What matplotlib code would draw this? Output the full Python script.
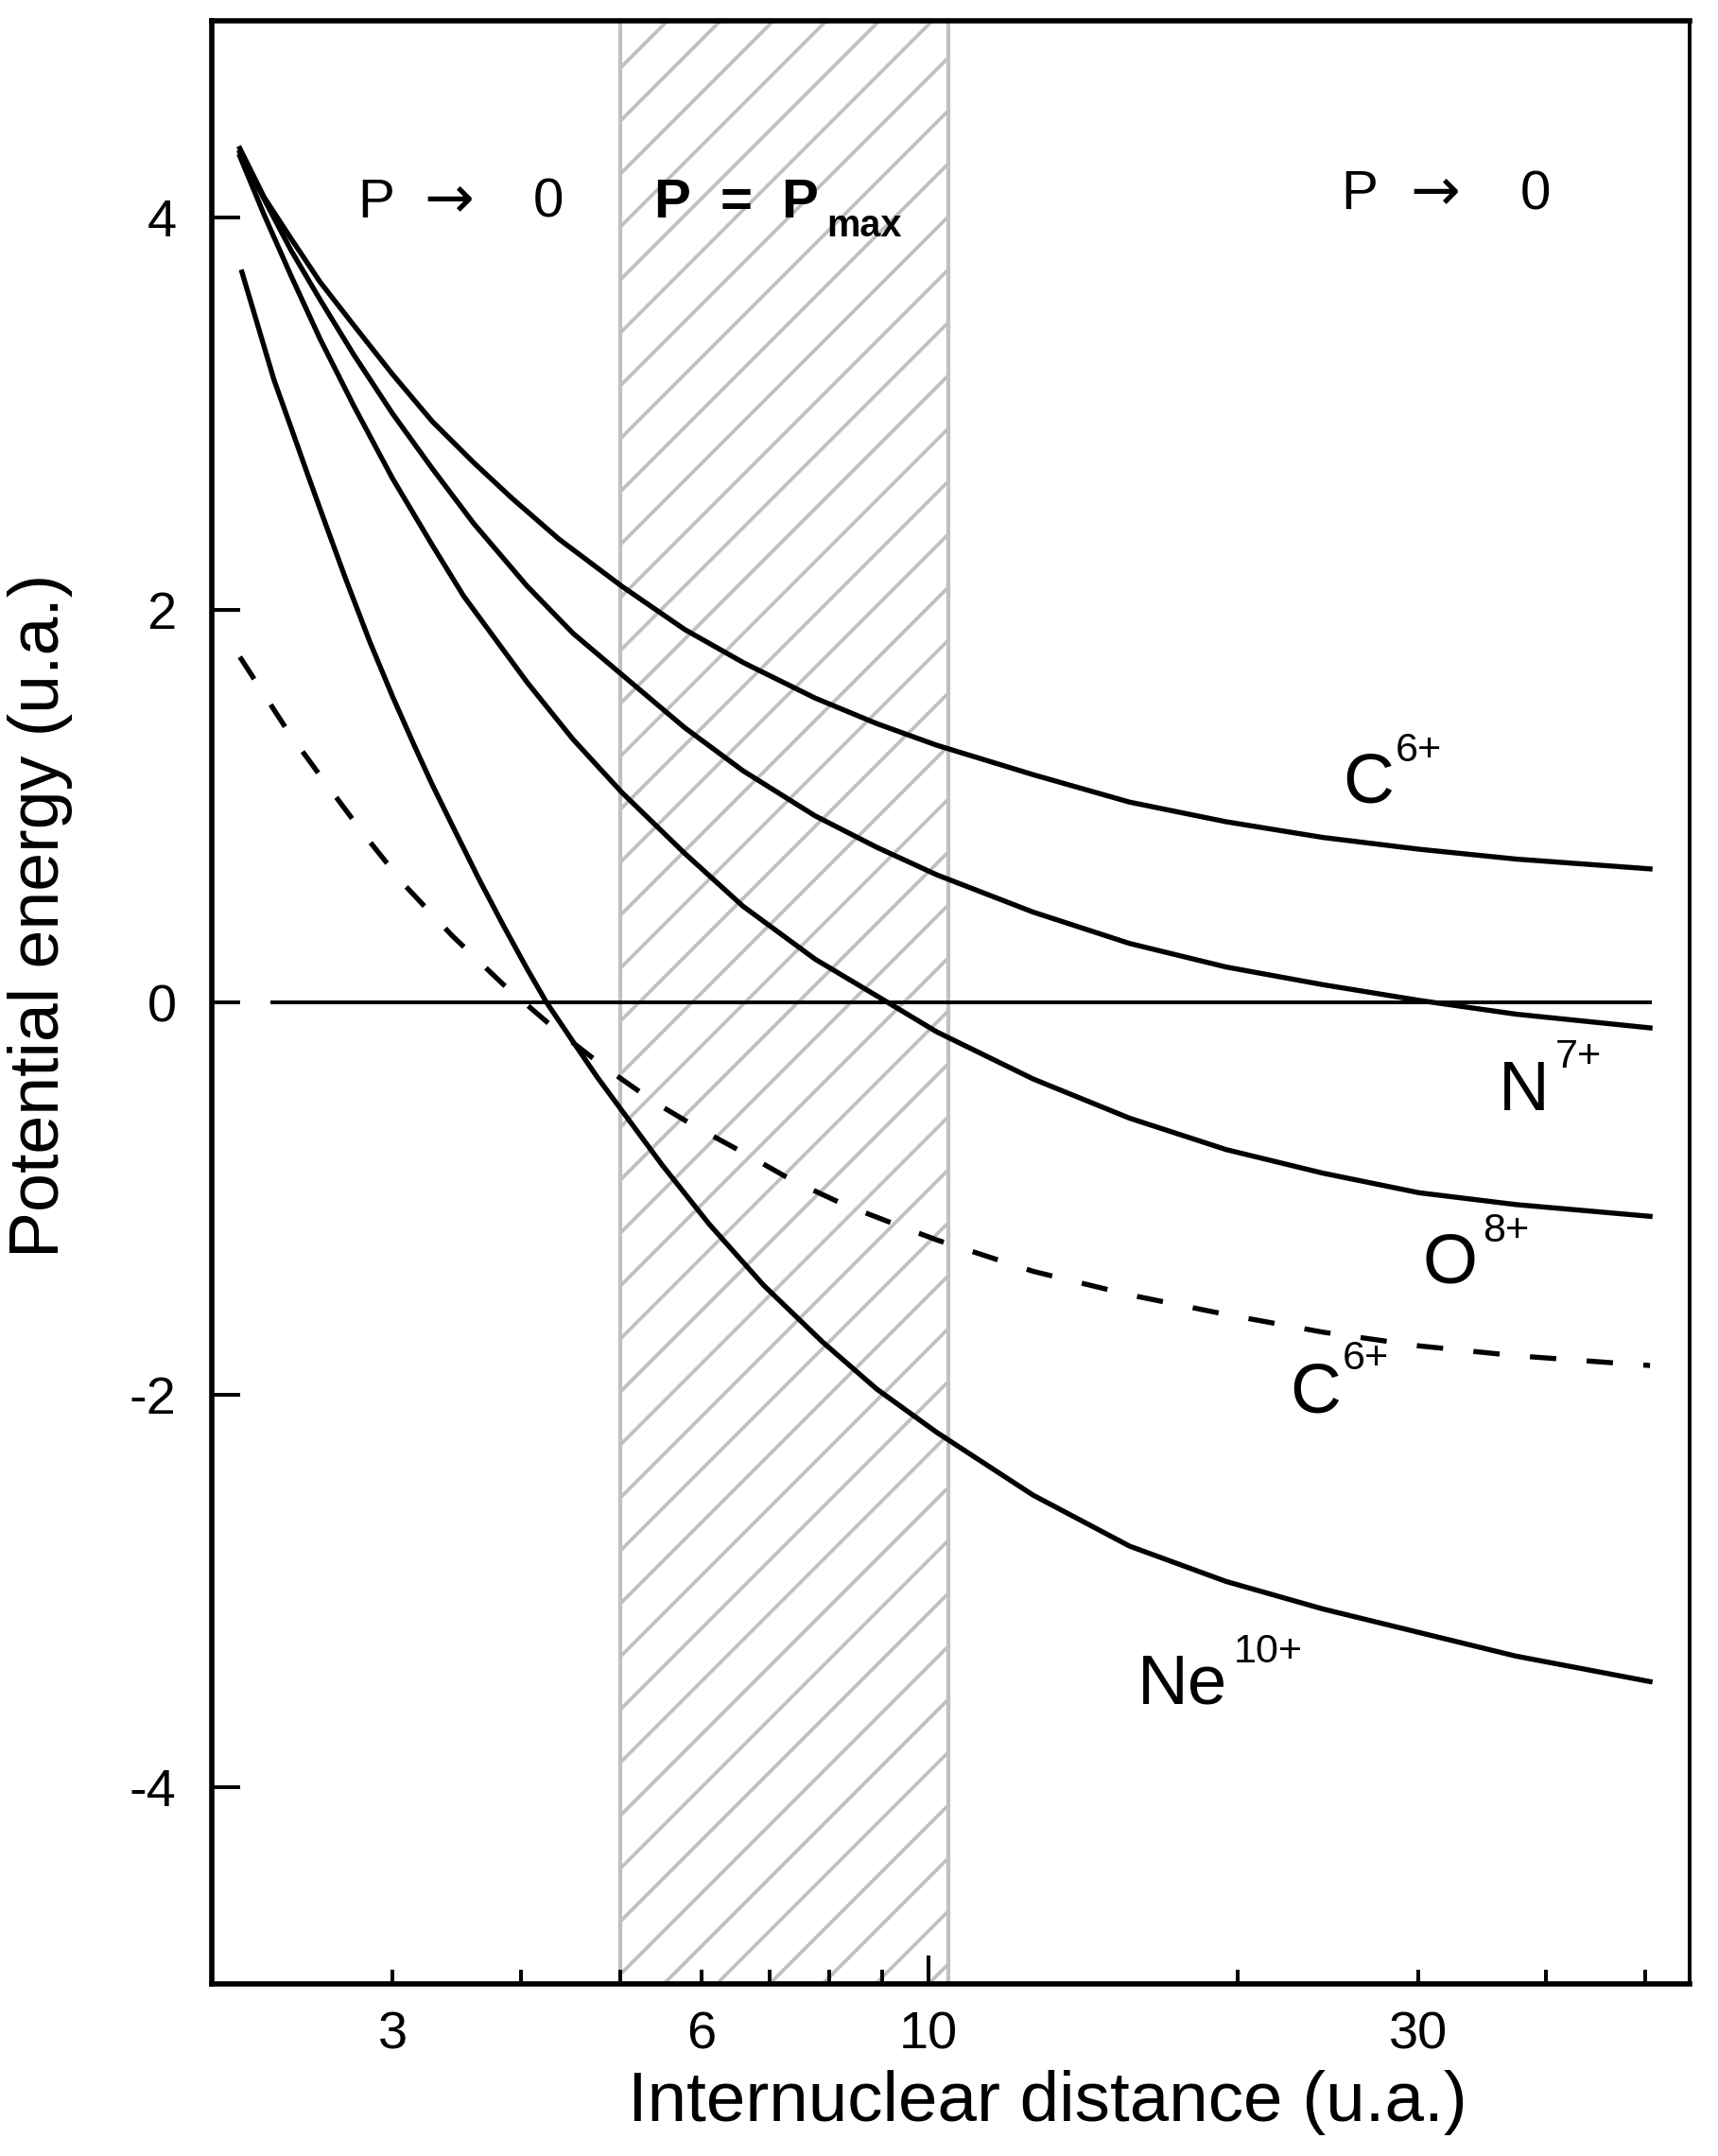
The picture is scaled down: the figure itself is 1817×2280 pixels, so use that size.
import matplotlib
matplotlib.use('Agg')
import matplotlib.pyplot as plt
from matplotlib.ticker import FixedLocator, FuncFormatter

plt.rcParams['font.family'] = ['Liberation Sans', 'DejaVu Sans']
plt.rcParams['axes.unicode_minus'] = False
plt.rcParams['hatch.linewidth'] = 1.6
plt.rcParams['hatch.color'] = '#c0c0c0'

# ---------------- data ----------------
c6_x = [2.13, 2.25, 2.39, 2.55, 2.75, 3.0, 3.28, 3.6, 3.92, 4.36, 5.02, 5.78,
        6.6, 7.75, 8.9, 10.18, 12.64, 15.70, 19.50, 24.23, 30.08, 37.36, 50.5]
c6_y = [4.35, 4.10, 3.89, 3.67, 3.45, 3.20, 2.96, 2.75, 2.57, 2.36, 2.12, 1.90,
        1.73, 1.55, 1.42, 1.31, 1.16, 1.02, 0.92, 0.84, 0.78, 0.73, 0.68]

n7_x = [2.13, 2.25, 2.39, 2.55, 2.75, 3.0, 3.28, 3.6, 4.06, 4.5, 5.02, 5.78,
        6.59, 7.75, 8.9, 10.18, 12.64, 15.70, 19.50, 24.23, 30.08, 37.36, 50.5]
n7_y = [4.33, 4.09, 3.83, 3.58, 3.30, 3.00, 2.72, 2.44, 2.12, 1.88, 1.67, 1.40,
        1.18, 0.95, 0.79, 0.65, 0.46, 0.30, 0.18, 0.09, 0.01, -0.06, -0.13]

o8_x = [2.13, 2.25, 2.39, 2.55, 2.75, 3.0, 3.28, 3.52, 4.06, 4.5, 5.02, 5.78,
        6.59, 7.75, 9.12, 10.18, 12.64, 15.70, 19.50, 24.23, 30.08, 37.36, 50.5]
o8_y = [4.31, 4.01, 3.70, 3.38, 3.04, 2.67, 2.33, 2.07, 1.63, 1.34, 1.07, 0.76,
        0.49, 0.22, 0.00, -0.15, -0.39, -0.59, -0.75, -0.87, -0.97, -1.03, -1.09]

ne10_x = [2.14, 2.22, 2.30, 2.40, 2.48, 2.56, 2.70, 2.85, 3.0, 3.15, 3.28,
          3.44, 3.65, 3.85, 4.06, 4.24, 4.50, 4.75, 5.02, 5.5, 6.11, 6.9,
          7.88, 8.9, 10.18, 12.64, 15.70, 19.50, 24.23, 30.08, 37.36, 50.5]
ne10_y = [3.72, 3.44, 3.17, 2.90, 2.69, 2.49, 2.16, 1.84, 1.56, 1.31, 1.11,
          0.89, 0.62, 0.39, 0.17, 0.00, -0.20, -0.38, -0.55, -0.83, -1.13, -1.44,
          -1.73, -1.97, -2.19, -2.51, -2.77, -2.95, -3.09, -3.21, -3.33, -3.46]

c6d_x = [2.13, 2.38, 2.58, 2.81, 3.08, 3.43, 3.85, 4.31, 4.83, 5.41, 5.91,
         6.62, 7.38, 8.27, 9.27, 10.18, 12.64, 15.70, 19.50, 24.23, 30.08,
         37.36, 50.5]
c6d_y = [1.76, 1.37, 1.12, 0.86, 0.60, 0.34, 0.09, -0.13, -0.33, -0.51, -0.63,
         -0.77, -0.91, -1.03, -1.13, -1.21, -1.37, -1.49, -1.59, -1.68, -1.75,
         -1.80, -1.85]

zero_x = [2.29, 50.5]
zero_y = [0.0, 0.0]

band = (5.0, 10.45)

x_major = [10]
x_minor = [3, 4, 5, 6, 7, 8, 9, 20, 30, 40, 50]
x_labelled = {3: '3', 6: '6', 10: '10', 30: '30'}
y_ticks = [-4, -2, 0, 2, 4]
y_ticklabels = ['-4', '-2', '0', '2', '4']

# ---------------- figure ----------------
DPI = 168
fig = plt.figure(figsize=(1817 / DPI, 2280 / DPI), dpi=DPI)
ax = fig.add_axes([0.12328, 0.07982, 0.86021, 0.91053])
ax.set_xscale('log')
ax.set_xlim(2.0, 55.2)
ax.set_ylim(-5, 5)

ax.axvspan(band[0], band[1], facecolor='none', edgecolor='#c0c0c0',
           hatch='/', linewidth=1.8, zorder=1)

lw = 2.3
ax.plot(zero_x, zero_y, color='black', lw=1.7, zorder=3)
ax.plot(c6_x, c6_y, color='black', lw=lw, zorder=3)
ax.plot(n7_x, n7_y, color='black', lw=lw, zorder=3)
ax.plot(o8_x, o8_y, color='black', lw=lw, zorder=3)
ax.plot(ne10_x, ne10_y, color='black', lw=lw, zorder=3)
ax.plot(c6d_x, c6d_y, color='black', lw=lw, ls=(0, (5.2, 6.0)), zorder=3)

# ticks
ax.xaxis.set_major_locator(FixedLocator(x_major))
ax.xaxis.set_minor_locator(FixedLocator(x_minor))
fmt = FuncFormatter(lambda v, p: x_labelled.get(int(round(v)), '') if abs(v - round(v)) < 1e-6 else '')
ax.xaxis.set_major_formatter(fmt)
ax.xaxis.set_minor_formatter(fmt)
ax.set_yticks(y_ticks)
ax.set_yticklabels(y_ticklabels)

ax.tick_params(axis='both', which='both', direction='in', top=False, right=False,
               width=1.7, labelsize=24)
ax.tick_params(axis='x', which='major', length=13, pad=12)
ax.tick_params(axis='x', which='minor', length=6.5, pad=12)
ax.tick_params(axis='y', which='major', length=13, pad=16)
ax.tick_params(axis='y', which='minor', left=False)

for side in ['left', 'top', 'bottom']:
    ax.spines[side].set_linewidth(2.4)
ax.spines['right'].set_linewidth(1.7)

ax.set_xlabel('Internuclear distance (u.a.)', fontsize=32)
ax.set_ylabel('Potential energy (u.a.)', fontsize=31.5)
ax.xaxis.set_label_coords(0.5656, -0.0440)
ax.yaxis.set_label_coords(-0.094, 0.5443)

# annotations
def txt(x, y, s, size, bold=False, family=None):
    kw = {}
    if family is not None:
        kw['family'] = family
    ax.text(x, y, s, fontsize=size, fontweight='bold' if bold else 'normal',
            ha='left', va='baseline', zorder=5, **kw)

arrow_family = ['DejaVu Sans']
txt(2.774, 4.0, 'P', 25)
txt(3.22, 4.0, '\u2192', 27, family=arrow_family)
txt(4.110, 4.0, '0', 25)

txt(5.393, 4.0, 'P', 25, True)
txt(6.257, 4.0, '=', 25, True)
txt(7.183, 4.0, 'P', 25, True)
txt(7.955, 3.90, 'max', 17, True)

txt(25.26, 4.04, 'P', 25)
txt(29.50, 4.04, '\u2192', 27, family=arrow_family)
txt(37.74, 4.04, '0', 25)

labels = [
    (25.32, 1.02, 'C', 28.50, 1.23, '6+'),
    (35.92, -0.55, 'N', 40.80, -0.33, '7+'),
    (30.33, -1.43, 'O', 34.70, -1.22, '8+'),
    (22.50, -2.09, 'C', 25.30, -1.87, '6+'),
    (15.99, -3.57, 'Ne', 19.85, -3.36, '10+'),
]
for bx, by, bs, sx, sy, ss in labels:
    txt(bx, by, bs, 32)
    txt(sx, sy, ss, 18.5)

fig.savefig('out.png', dpi=DPI)
